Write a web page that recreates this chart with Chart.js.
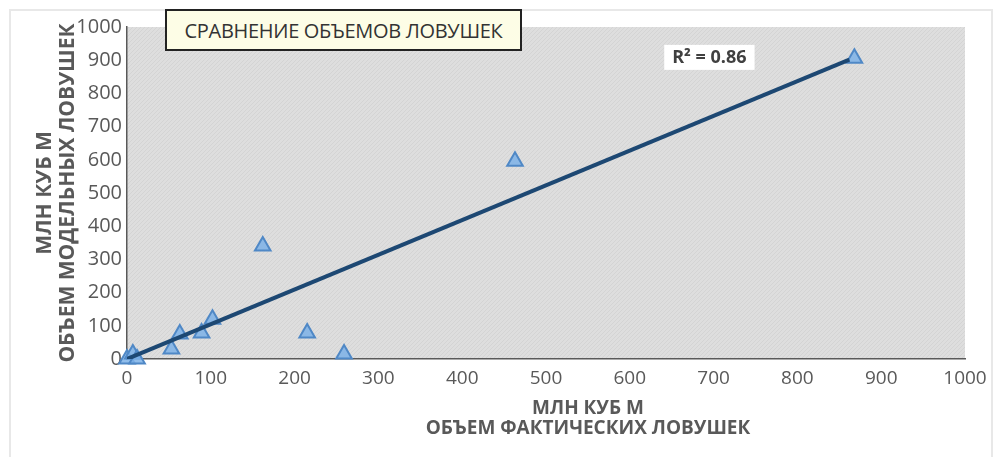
<!DOCTYPE html>
<html lang="ru">
<head>
  <meta charset="UTF-8" />
  <title>Сравнение объемов ловушек</title>
  <script src="https://cdn.jsdelivr.net/npm/chart.js"></script>
  <style>
    body { margin: 0; background: #fff; }
    .wrap { position: relative; width: 997px; height: 457px; overflow: hidden; }
    .frame {
      position: absolute; left: 9px; top: 9px; width: 980px; height: 470px;
      border: 2px solid #e8e8e8;
    }
    canvas { position: absolute; left: 0; top: 0; }
    .title-box {
      position: absolute; left: 165px; top: 9px; width: 353px; height: 38px;
      background: #fdfde6; border: 2px solid #222;
      font: 20px 'Open Sans', sans-serif; color: #333;
      display: flex; align-items: center; justify-content: center;
      white-space: nowrap; letter-spacing: -0.3px;
    }
  </style>
</head>
<body>
<div class="wrap">
  <div class="frame"></div>
  <canvas id="chart" width="997" height="457"></canvas>
  <div class="title-box">СРАВНЕНИЕ ОБЪЕМОВ ЛОВУШЕК</div>
</div>

<script>
  // data (млн куб м)
  const actualVolume = [0, 7, 12, 53, 63, 89, 102, 162, 215, 259, 463, 868];
  const modelVolume  = [0, 15, 0, 30, 75, 78, 120, 340, 78, 15, 596, 906];
  const trendX = [0, 862];
  const trendY = [0, 902];
  const axisTicks = [0, 100, 200, 300, 400, 500, 600, 700, 800, 900, 1000];
  const xTitle = ['МЛН КУБ М', 'ОБЪЕМ ФАКТИЧЕСКИХ ЛОВУШЕК'];
  const yTitle = ['МЛН КУБ М', 'ОБЪЕМ МОДЕЛЬНЫХ ЛОВУШЕК'];
  const r2Text = 'R² = 0.86';

  const grey = '#595959';

  // hatched grey plot background
  function makePattern() {
    const c = document.createElement('canvas');
    c.width = 4; c.height = 4;
    const g = c.getContext('2d');
    g.fillStyle = '#dedede';
    g.fillRect(0, 0, 4, 4);
    g.fillStyle = '#d4d4d4';
    for (let i = 0; i < 4; i++) g.fillRect(i, 3 - i, 1, 1);
    return c;
  }

  const plotBg = {
    id: 'plotBg',
    beforeDraw(chart) {
      const { ctx, chartArea: a } = chart;
      ctx.save();
      ctx.fillStyle = ctx.createPattern(makePattern(), 'repeat');
      ctx.fillRect(a.left, a.top, a.right - a.left, a.bottom - a.top);
      ctx.restore();
    }
  };

  // R² box and the x axis title (which sits right of centre in the original)
  const labels = {
    id: 'labels',
    afterDatasetsDraw(chart) {
      const { ctx, scales, chartArea: a } = chart;
      const x = scales.x.getPixelForValue(695);
      const y = scales.y.getPixelForValue(907);
      ctx.save();
      ctx.font = "bold 18px 'Open Sans', sans-serif";
      const w = ctx.measureText(r2Text).width + 16;
      ctx.fillStyle = '#fff';
      ctx.fillRect(x - w / 2, y - 13, w, 25);
      ctx.fillStyle = '#404040';
      ctx.textAlign = 'center';
      ctx.textBaseline = 'middle';
      ctx.fillText(r2Text, x, y);

      ctx.fillStyle = grey;
      ctx.font = "bold 19px 'Open Sans', sans-serif";
      const cx = (a.left + a.right) / 2 + 42;
      ctx.fillText(xTitle[0], cx, a.bottom + 50);
      ctx.fillText(xTitle[1], cx, a.bottom + 70);
      ctx.restore();
    }
  };

  new Chart(document.getElementById('chart'), {
    type: 'scatter',
    data: {
      datasets: [
        {
          label: 'trend',
          type: 'line',
          data: trendX.map((x, i) => ({ x, y: trendY[i] })),
          borderColor: '#1d4873',
          borderWidth: 4,
          pointRadius: 0,
          order: 1
        },
        {
          label: 'ловушки',
          data: actualVolume.map((x, i) => ({ x, y: modelVolume[i] })),
          pointStyle: 'triangle',
          pointRadius: 9,
          backgroundColor: 'rgba(125,178,232,0.85)',
          borderColor: '#4f88c6',
          borderWidth: 2,
          clip: false,
          order: 2
        }
      ]
    },
    options: {
      responsive: false,
      animation: false,
      layout: { padding: { left: 0, right: 32, top: 27, bottom: 0 } },
      plugins: { legend: { display: false }, tooltip: { enabled: false } },
      scales: {
        x: {
          type: 'linear', min: 0, max: 1000,
          afterBuildTicks: s => { s.ticks = axisTicks.map(v => ({ value: v })); },
          afterFit: s => { s.height = 98; },
          grid: { display: false, drawTicks: false },
          border: { display: true, color: grey, width: 1.5, dash: [2, 2] },
          ticks: { color: grey, padding: 8, maxRotation: 0,
                   callback: v => String(v),
                   font: { family: "'Open Sans', sans-serif", size: 19 } }
        },
        y: {
          type: 'linear', min: 0, max: 1000,
          afterBuildTicks: s => { s.ticks = axisTicks.map(v => ({ value: v })); },
          afterFit: s => { s.width = 127; },
          grid: { display: false, drawTicks: false },
          border: { display: true, color: grey, width: 1.5, dash: [2, 2] },
          ticks: { color: grey, padding: 5,
                   callback: v => String(v),
                   font: { family: "'Open Sans', sans-serif", size: 20 } },
          title: {
            display: true,
            text: yTitle,
            color: grey,
            font: { family: "'Open Sans', sans-serif", size: 21, weight: 'bold', lineHeight: 1.1 },
            padding: { top: 33, bottom: 0 }
          }
        }
      }
    },
    plugins: [plotBg, labels]
  });
</script>
</body>
</html>
